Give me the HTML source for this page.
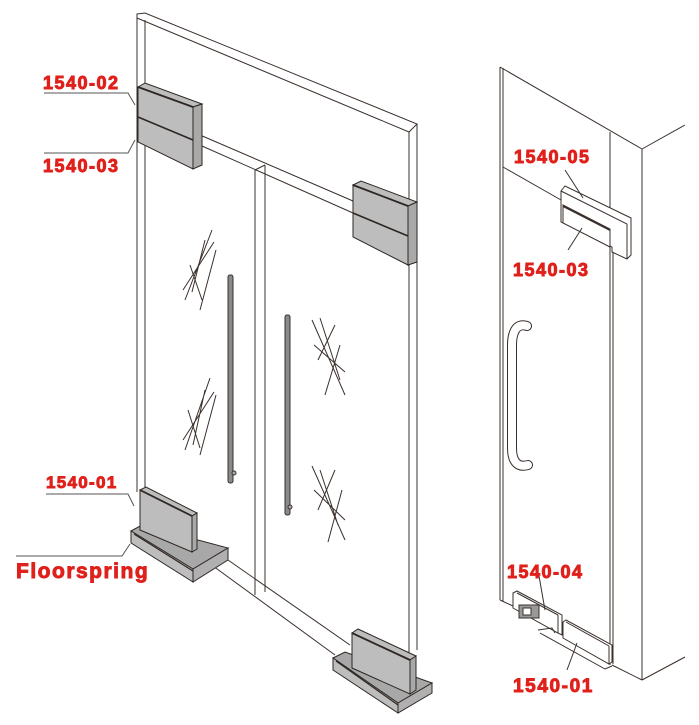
<!DOCTYPE html>
<html><head><meta charset="utf-8"><style>
html,body{margin:0;padding:0;background:#fff;}
svg{display:block;}
.t{font-family:"Liberation Sans",Arial,sans-serif;font-weight:bold;fill:#e0201b;stroke:#e0201b;stroke-width:0.9;}
</style></head><body>
<svg width="699" height="725" viewBox="0 0 699 725" xmlns="http://www.w3.org/2000/svg">
<g fill="none" stroke="#3a302c" stroke-width="1">
<path d="M137,14 L145,13 L417,124 L409,132 L137,18 Z"/>
<line x1="137" y1="14" x2="137" y2="492"/>
<line x1="145" y1="20" x2="145" y2="490"/>
<line x1="409" y1="132" x2="409" y2="655"/>
<line x1="417" y1="124" x2="417" y2="650"/>
<line x1="200" y1="135" x2="353" y2="201"/>
<line x1="193" y1="142" x2="353" y2="213"/>
<line x1="255" y1="170" x2="255" y2="595"/>
<line x1="265" y1="165" x2="265" y2="592"/>
<line x1="255" y1="170" x2="265" y2="165"/>
<line x1="213" y1="566" x2="335" y2="655"/>
<line x1="228" y1="560" x2="350" y2="645"/>
<path d="M185,300 L212,230 M192,292 L205,240 M200,310 L216,250 M190,265 L202,300 M183,290 L214,242"/>
<path d="M185,450 L210,378 M193,445 L205,390 M200,455 L216,395 M188,410 L200,448 M183,440 L214,392"/>
<path d="M312,320 L345,395 M320,318 L340,380 M318,360 L335,325 M325,395 L340,345 M314,345 L345,372"/>
<path d="M312,466 L345,540 M320,470 L338,525 M318,510 L335,470 M328,542 L342,490 M314,490 L345,520"/>
</g>
<g stroke="#3a302c" stroke-width="1" fill="#8a8a8a">
<rect x="228" y="275" width="5" height="208" rx="2"/>
<rect x="285" y="315" width="5" height="200" rx="2"/>
<circle cx="234" cy="473" r="2" fill="#aaa"/>
<circle cx="290" cy="507" r="2" fill="#aaa"/>
</g>
<g stroke="#2e2622" stroke-width="1" fill="#bdbdbd">
<polygon points="138,87 145,83 202,104 193,107"/>
<polygon points="193,107 202,104 202,165 193,169" fill="#a9a9a9"/>
<polygon points="138,87 193,107 193,169 138,142"/>
<line x1="138" y1="117" x2="193" y2="140" stroke-width="1.6"/>
<line x1="138" y1="87" x2="193" y2="107" stroke-width="1.8"/>
<polygon points="353,185 361,181 417,202 408,206"/>
<polygon points="408,206 417,202 417,262 408,265" fill="#a9a9a9"/>
<polygon points="353,185 408,206 408,265 353,237"/>
<line x1="353" y1="213" x2="408" y2="236" stroke-width="1.6"/>
<line x1="353" y1="185" x2="408" y2="206" stroke-width="1.8"/>
</g>
<g stroke="#2e2622" stroke-width="1" fill="#bdbdbd">
<polygon points="131,531 142,525 228,548 193,569" fill="#a8a8a8"/>
<polygon points="131,531 193,569 193,582 131,543"/>
<polygon points="193,569 228,548 228,560 193,582" fill="#b0b0b0"/>
<polygon points="140,490 146,487 197,513 192,516"/>
<polygon points="192,516 197,513 197,549 192,552" fill="#a9a9a9"/>
<polygon points="140,490 192,516 192,552 140,530"/>
<line x1="140" y1="490" x2="192" y2="516" stroke-width="1.8"/>
<line x1="134" y1="534" x2="193" y2="571" stroke-width="1.2"/>
<polygon points="333,658 345,652 432,683 398,703" fill="#a8a8a8"/>
<polygon points="333,658 398,703 398,713 333,670"/>
<polygon points="398,703 432,683 432,693 398,713" fill="#b0b0b0"/>
<polygon points="352,633 358,629 416,656 410,660"/>
<polygon points="410,660 416,656 416,690 410,694" fill="#a9a9a9"/>
<polygon points="352,633 410,660 410,694 352,668"/>
<line x1="352" y1="633" x2="410" y2="660" stroke-width="1.8"/>
<line x1="336" y1="661" x2="398" y2="705" stroke-width="1.2"/>
</g>
<g fill="none" stroke="#555" stroke-width="1">
<polyline points="44,93 128,93 135,105"/>
<polyline points="44,153 128,153 135,140"/>
<polyline points="46,494 128,494 134,506"/>
<polyline points="16,556 122,556 130,544"/>
</g>
<text class="t" x="43" y="89" font-size="18" letter-spacing="1.5">1540-02</text>
<text class="t" x="43" y="172" font-size="18" letter-spacing="1.5">1540-03</text>
<text class="t" x="46" y="488" font-size="17" letter-spacing="1.3">1540-01</text>
<text class="t" x="16" y="578" font-size="21" letter-spacing="1.5">Floorspring</text>

<g fill="none" stroke="#3a302c" stroke-width="1">
<line x1="500" y1="67" x2="500" y2="600"/>
<line x1="503" y1="68" x2="503" y2="602"/>
<line x1="500" y1="67" x2="642" y2="149"/>
<line x1="642" y1="149" x2="685" y2="125"/>
<line x1="642" y1="149" x2="642" y2="680"/>
<line x1="642" y1="680" x2="685" y2="657"/>
<line x1="610" y1="132" x2="610" y2="665"/>
<line x1="613" y1="232" x2="613" y2="664"/>
<line x1="612" y1="665" x2="642" y2="680"/>
<line x1="500" y1="600" x2="513" y2="606"/>
<line x1="503" y1="167" x2="561" y2="200"/>
</g>
<path d="M527,326 C515,322 512,335 512,345 L512,448 C512,462 518,468 528,465" fill="none" stroke="#3a302c" stroke-width="10" stroke-linecap="round"/>
<path d="M527,326 C515,322 512,335 512,345 L512,448 C512,462 518,468 528,465" fill="none" stroke="#fff" stroke-width="8" stroke-linecap="round"/>
<g stroke="#3a302c" stroke-width="1" fill="#fff">
<polygon points="561,191 565,186 631,218 631,255 627,259 612,252 612,247 561,222"/>
<polyline points="561,191 627,224 627,259" fill="none"/>
<polygon points="563,205 610,229 610,247 563,223"/>
<line x1="563" y1="206" x2="610" y2="230" stroke-width="2"/>
<line x1="565" y1="170" x2="583" y2="198"/>
<line x1="568" y1="250" x2="582" y2="228"/>
</g>
<g stroke="#3a302c" stroke-width="1" fill="#fff">
<polygon points="513,593 517,591 562,615 562,635 558,633 513,608"/>
<line x1="517" y1="593" x2="558" y2="615"/>
<line x1="558" y1="615" x2="558" y2="633"/>
<rect x="519" y="605" width="20" height="13" fill="#999"/>
<rect x="523" y="608" width="8" height="7" fill="#fff"/>
<polygon points="563,622 566,620 612,645 612,662 609,664 563,638"/>
<line x1="566" y1="622" x2="609" y2="646"/>
<line x1="609" y1="646" x2="609" y2="664"/>
<polyline points="538,630 552,628 555,633" fill="none"/>
<polyline points="540,633 605,669 612,666" fill="none"/>
<line x1="539" y1="576" x2="545" y2="610"/>
<line x1="577" y1="643" x2="567" y2="670"/>
</g>
<text class="t" x="514" y="163" font-size="18" letter-spacing="1.5">1540-05</text>
<text class="t" x="513" y="276" font-size="18" letter-spacing="1.5">1540-03</text>
<text class="t" x="507" y="578" font-size="18" letter-spacing="1.5">1540-04</text>
<text class="t" x="513" y="692" font-size="19" letter-spacing="1.6">1540-01</text>
</svg>
</body></html>
